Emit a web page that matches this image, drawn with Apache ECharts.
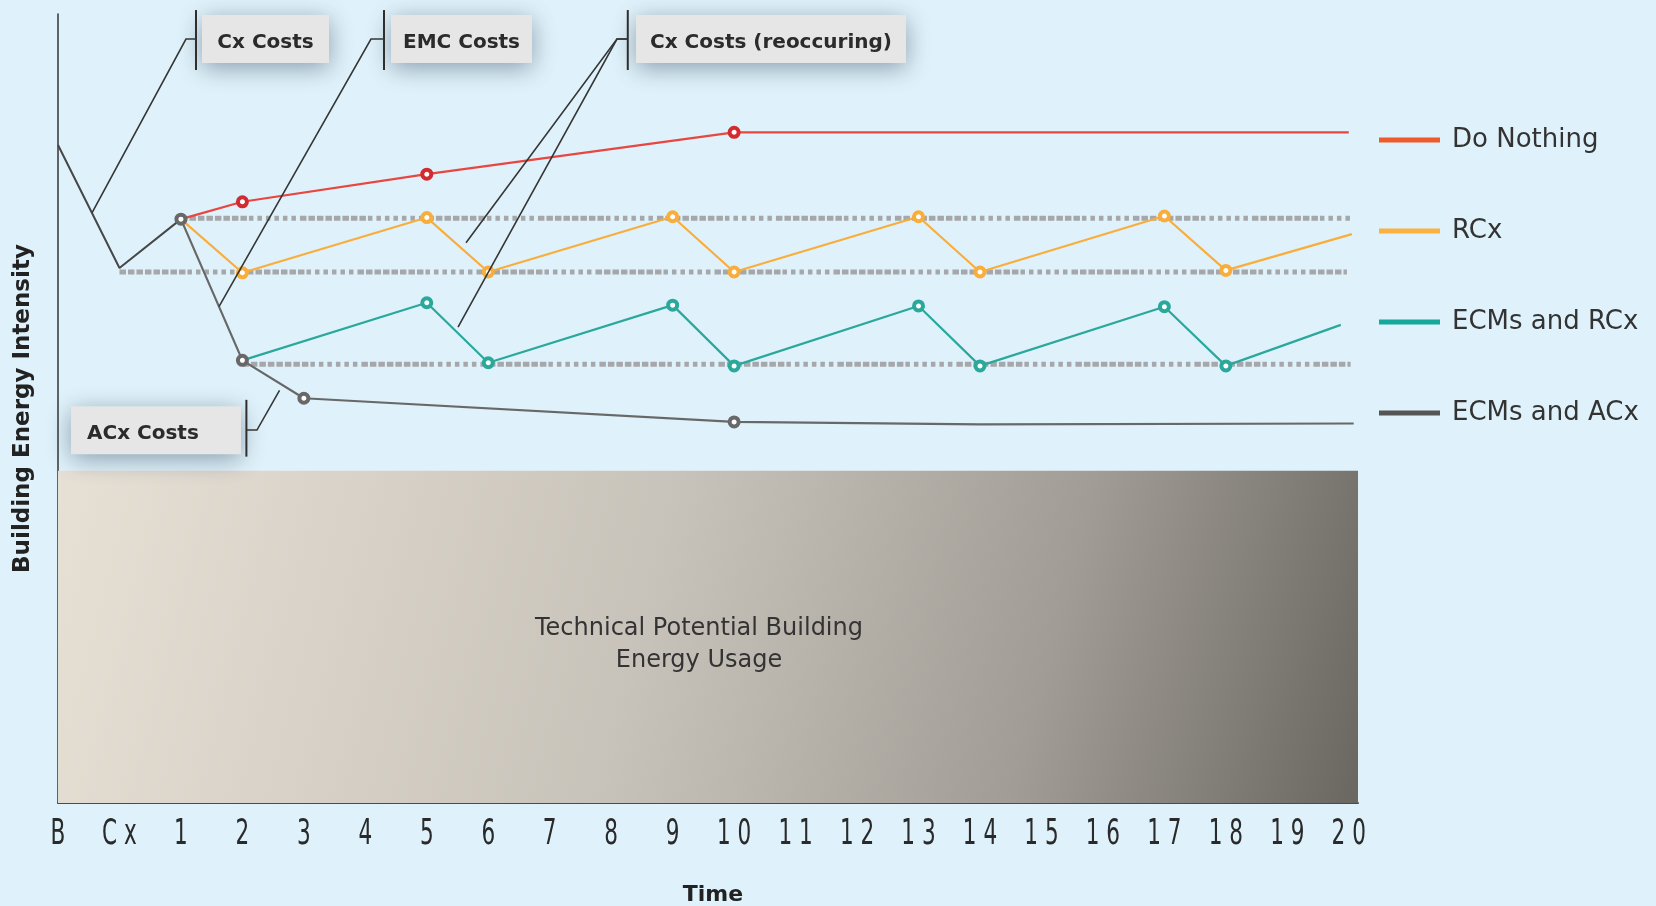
<!DOCTYPE html>
<html>
<head>
<meta charset="utf-8">
<title>Building Energy Intensity over Time</title>
<script src="https://cdn.jsdelivr.net/npm/echarts@6/dist/echarts.min.js"></script>
<style>
  html, body { margin: 0; padding: 0; background: #dff2fb; }
  #chart { width: 1656px; height: 906px; }
</style>
</head>
<body>
<div id="chart"></div>
<script>
// ---- Time axis: B = baseline, Cx = commissioning, then years 1..20 ----
const timeTicks  = [-1, 0, 1, 2, 3, 4, 5, 6, 7, 8, 9, 10, 11, 12, 13, 14, 15, 16, 17, 18, 19, 20];
const timeLabels = ['B', 'Cx', '1', '2', '3', '4', '5', '6', '7', '8', '9', '10',
                    '11', '12', '13', '14', '15', '16', '17', '18', '19', '20'];

// ---- Energy intensity paths (relative index, 0-100) as [time, intensity] ----
const baselinePath = [[-1, 83.4], [0, 67.8], [1, 74.0]];
const doNothing    = [[1, 74.0], [2, 76.2], [5, 79.7], [10, 85.0], [20, 85.0]];
const rcx          = [[1, 74.0], [2, 67.2], [5, 74.2], [6, 67.3], [9, 74.3], [10, 67.3],
                      [13, 74.3], [14, 67.3], [17, 74.4], [18, 67.5], [20.05, 72.1]];
const ecmsRcx      = [[2, 56.1], [5, 63.4], [6, 55.8], [9, 63.1], [10, 55.4],
                      [13, 63.0], [14, 55.4], [17, 62.9], [18, 55.4], [19.87, 60.6]];
const ecmsAcx      = [[1, 74.0], [2, 56.1], [3, 51.3], [10, 48.3], [14, 48.0], [20.08, 48.1]];

// Years where each path gets a marker
const doNothingMarks = [2, 5, 10];
const rcxMarks       = [2, 5, 6, 9, 10, 13, 14, 17, 18];
const ecmsRcxMarks   = [5, 6, 9, 10, 13, 14, 17, 18];
const ecmsAcxMarks   = [1, 2, 3, 10];

// Dotted performance bands: [from, to, level]
const upperBand  = [1, 20.08, 74.1];
const middleBand = [0, 19.97, 67.3];
const lowerBand  = [2, 20.03, 55.6];

// Technical potential ceiling
const potentialTop = 42.1;
const timeMax = 20.15;

// Cost callouts, placed in axis units
const callouts = [
  { text: 'Cx Costs', box: [1.343, 99.87, 3.409, 93.79], bracketX: 1.245, bracketY: [100.5, 92.9],
    tickX: 1.082, tickY: 96.83, targets: [[-0.447, 74.8]] },
  { text: 'EMC Costs', box: [4.418, 99.87, 6.712, 93.79], bracketX: 4.304, bracketY: [100.5, 92.9],
    tickX: 4.092, tickY: 96.83, targets: [[1.619, 62.9]] },
  { text: 'Cx Costs (reoccuring)', box: [8.404, 99.87, 12.796, 93.79], bracketX: 8.27, bracketY: [100.5, 92.9],
    tickX: 8.094, tickY: 96.83, targets: [[5.638, 71.0], [5.508, 60.3]] },
  { text: 'ACx Costs', box: [-0.788, 50.3, 1.977, 44.2], bracketX: 2.065, bracketY: [51.1, 43.9],
    tickX: 2.237, tickY: 47.27, targets: [[2.604, 52.3]], textInset: 16 }
];

const COLORS = {
  doNothing: '#e8463f', doNothingMark: '#d22b30', doNothingKey: '#f05a2a',
  rcx: '#f9ad3a', rcxKey: '#fbb040',
  ecmsRcx: '#2ba89c', ecmsRcxKey: '#13a89a',
  ecmsAcx: '#686868', ecmsAcxKey: '#555555',
  baseline: '#474747', band: '#a6a7aa'
};

function withMarkers(points, marked) {
  return points.map(p => marked.indexOf(p[0]) >= 0 ? { value: p } : { value: p, symbol: 'none' });
}

function pathSeries(name, points, marked, lineColor, markColor, z) {
  return {
    name: name, type: 'line', z: z,
    data: withMarkers(points, marked),
    symbol: 'circle', symbolSize: 9, showSymbol: true,
    lineStyle: { color: lineColor, width: 2.2 },
    itemStyle: { color: '#ffffff', borderColor: markColor, borderWidth: 4 },
    emphasis: { disabled: true },
    animation: false
  };
}

const dashPattern = [6.5, 2, 6.5, 2, 6.5, 2, 6.5, 2, 6.5, 2, 6.5, 2, 6.5, 2, 6.5, 2,
                     4.5, 4, 4.5, 4, 4.5, 4, 4.5, 4, 4.5, 4, 4.5, 4];

function bandSeries(band) {
  return {
    type: 'line', z: 2, silent: true, symbol: 'none', animation: false,
    data: [[band[0], band[2]], [band[1], band[2]]],
    lineStyle: { color: COLORS.band, width: 5, type: dashPattern, cap: 'butt' },
    emphasis: { disabled: true }
  };
}

const chart = echarts.init(document.getElementById('chart'), null, { renderer: 'canvas' });

chart.setOption({
  backgroundColor: '#dff2fb',
  animation: false,
  grid: { left: 58, right: 298, top: 14, bottom: 103, containLabel: false, outerBoundsMode: 'none' },
  legend: {
    orient: 'vertical', left: 1374, top: 122, itemGap: 65,
    itemWidth: 61, itemHeight: 5, icon: 'rect', selectedMode: false,
    itemStyle: { borderWidth: 0 },
    textStyle: { fontFamily: 'DejaVu Sans', fontSize: 26, color: '#333333', padding: [0, 0, 0, 7] },
    data: [
      { name: 'Do Nothing', itemStyle: { color: COLORS.doNothingKey } },
      { name: 'RCx', itemStyle: { color: COLORS.rcxKey } },
      { name: 'ECMs and RCx', itemStyle: { color: COLORS.ecmsRcxKey } },
      { name: 'ECMs and ACx', itemStyle: { color: COLORS.ecmsAcxKey } }
    ]
  },
  xAxis: {
    type: 'value', min: -1, max: timeMax, interval: 1,
    name: 'Time', nameLocation: 'middle', nameGap: 81,
    nameTextStyle: { fontFamily: 'DejaVu Sans', fontWeight: 'bold', fontSize: 22, color: '#222222', padding: [0, 0, 0, 10] },
    axisLine: { show: true, onZero: false, lineStyle: { color: '#4b4b4b', width: 2 } },
    axisTick: { show: false },
    splitLine: { show: false },
    axisLabel: { show: false }
  },
  yAxis: {
    type: 'value', min: 0, max: 100,
    name: 'Building Energy Intensity', nameLocation: 'middle', nameGap: 23,
    nameTextStyle: { fontFamily: 'DejaVu Sans', fontWeight: 'bold', fontSize: 23, color: '#222222' },
    axisLine: { show: true, onZero: false, lineStyle: { color: '#333333', width: 1.5 } },
    axisTick: { show: false },
    axisLabel: { show: false },
    splitLine: { show: false }
  },
  series: [
    {
      type: 'line', z: 3, silent: true, symbol: 'none', animation: false,
      data: baselinePath,
      lineStyle: { color: COLORS.baseline, width: 2 },
      emphasis: { disabled: true },
      markArea: {
        silent: true,
        itemStyle: {
          color: {
            type: 'linear', x: 0, y: 0, x2: 1, y2: 1,
            colorStops: [
              { offset: 0, color: '#e7e0d5' },
              { offset: 0.45, color: '#c8c3ba' },
              { offset: 0.75, color: '#a19d96' },
              { offset: 1, color: '#6a6761' }
            ]
          }
        },
        label: {
          show: true, position: 'inside', offset: [-9, 8],
          formatter: 'Technical Potential Building\nEnergy Usage',
          fontFamily: 'DejaVu Sans', fontSize: 24, lineHeight: 32, color: '#333333', align: 'center'
        },
        data: [[{ coord: [-1, 0] }, { coord: [timeMax, potentialTop] }]]
      }
    },
    bandSeries(upperBand),
    bandSeries(middleBand),
    bandSeries(lowerBand),
    pathSeries('Do Nothing', doNothing, doNothingMarks, COLORS.doNothing, COLORS.doNothingMark, 5),
    pathSeries('RCx', rcx, rcxMarks, COLORS.rcx, COLORS.rcx, 5),
    pathSeries('ECMs and RCx', ecmsRcx, ecmsRcxMarks, COLORS.ecmsRcx, COLORS.ecmsRcx, 5),
    pathSeries('ECMs and ACx', ecmsAcx, ecmsAcxMarks, COLORS.ecmsAcx, COLORS.ecmsAcx, 6),
    {
      // time tick labels in a tall, narrow letter-spaced face under each tick
      type: 'custom', coordinateSystem: 'cartesian2d', z: 4, clip: false, silent: true, animation: false,
      data: timeTicks.map((t, i) => [t, 0, i]),
      renderItem: function (params, api) {
        const pos = api.coord([api.value(0), 0]);
        const label = timeLabels[params.dataIndex].split('').join(' ');
        return {
          type: 'text', x: pos[0], y: pos[1] + 32, scaleX: 0.6,
          style: {
            text: label, x: 0, y: 0, align: 'center', verticalAlign: 'middle',
            fill: '#2a2a2a', fontFamily: 'DejaVu Sans', fontSize: 36
          }
        };
      }
    },
    {
      // cost callouts: shadowed label box, bracket and leader lines
      type: 'custom', coordinateSystem: 'cartesian2d', z: 8, clip: false, silent: true, animation: false,
      data: callouts.map((c, i) => [c.bracketX, c.tickY, i]),
      renderItem: function (params, api) {
        const c = callouts[params.dataIndex];
        const P = (x, y) => api.coord([x, y]);
        const b0 = P(c.box[0], c.box[1]);
        const b1 = P(c.box[2], c.box[3]);
        const children = [];
        children.push({
          type: 'rect',
          shape: { x: b0[0], y: b0[1], width: b1[0] - b0[0], height: b1[1] - b0[1] },
          style: { fill: '#e6e6e6', shadowBlur: 24, shadowColor: 'rgba(30,50,70,0.45)', shadowOffsetY: 5 }
        });
        const inset = c.textInset;
        children.push({
          type: 'text',
          style: {
            text: c.text,
            x: inset ? b0[0] + inset : (b0[0] + b1[0]) / 2,
            y: (b0[1] + b1[1]) / 2 + 4,
            align: inset ? 'left' : 'center', verticalAlign: 'middle',
            fill: '#2b2b2b', fontFamily: 'DejaVu Sans', fontWeight: 'bold', fontSize: 20
          }
        });
        children.push({
          type: 'polyline',
          shape: { points: [P(c.bracketX, c.bracketY[0]), P(c.bracketX, c.bracketY[1])] },
          style: { stroke: '#2e2e2e', lineWidth: 2, fill: null }
        });
        c.targets.forEach(t => {
          children.push({
            type: 'polyline',
            shape: { points: [P(c.bracketX, c.tickY), P(c.tickX, c.tickY), P(t[0], t[1])] },
            style: { stroke: '#363636', lineWidth: 1.6, fill: null }
          });
        });
        return { type: 'group', children: children };
      }
    }
  ]
});
</script>
</body>
</html>
